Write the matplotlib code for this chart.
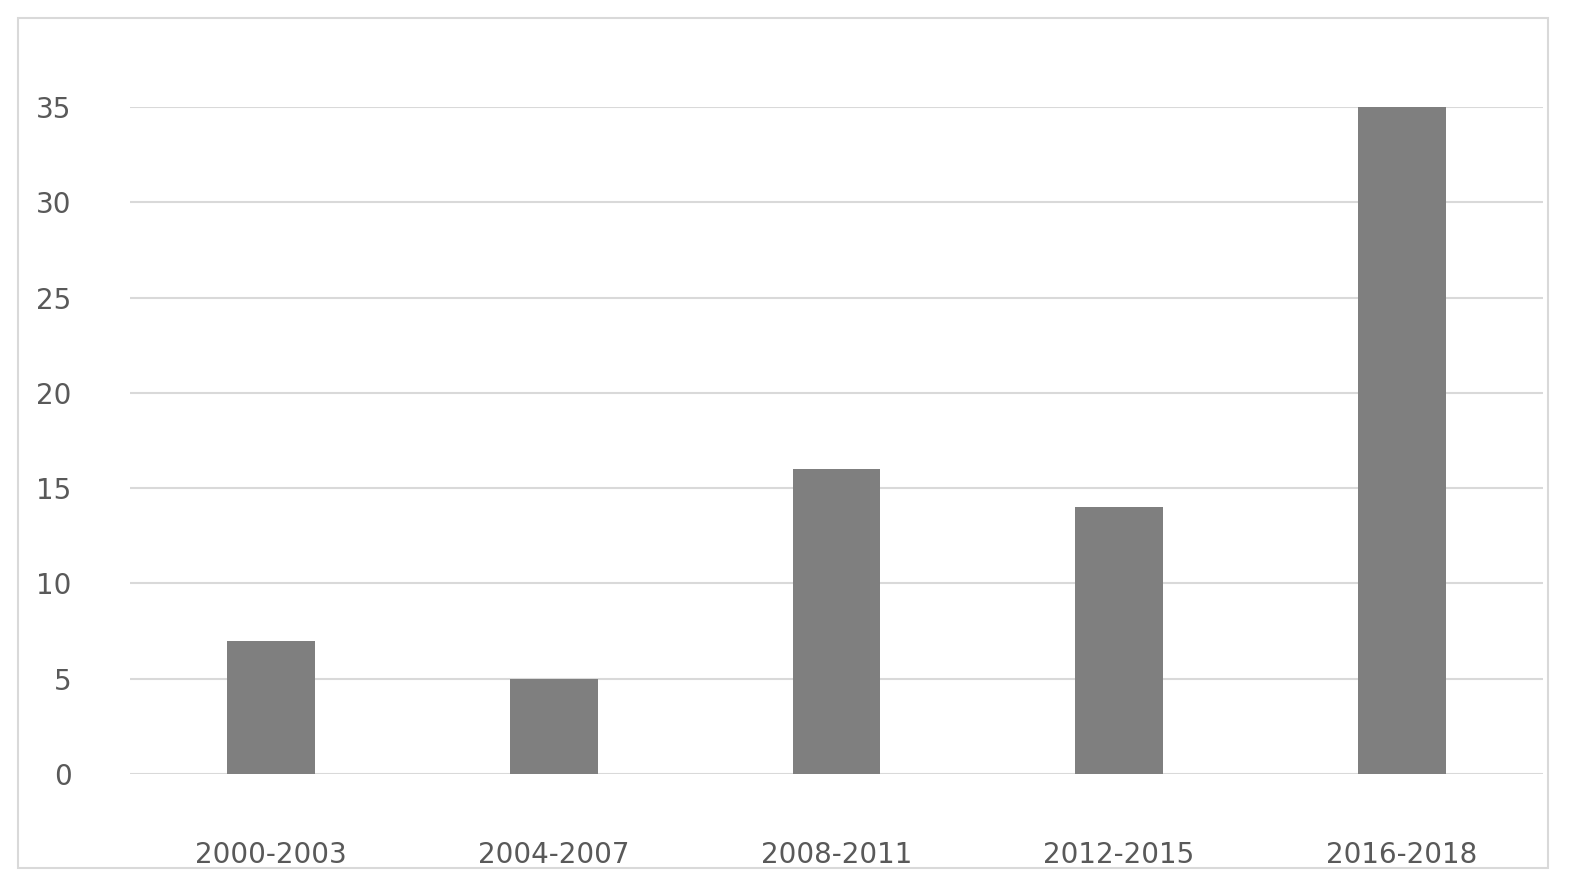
import matplotlib.pyplot as plt
from matplotlib.patches import Rectangle

periods = ["2000-2003", "2004-2007", "2008-2011", "2012-2015", "2016-2018"]
counts = [7, 5, 16, 14, 35]
yticks = [0, 5, 10, 15, 20, 25, 30, 35]

fig = plt.figure(figsize=(15.72, 8.86), dpi=100)
fig.patches.append(Rectangle((18 / 1572, 18 / 886), 1530 / 1572, 850 / 886,
                             transform=fig.transFigure, fill=False,
                             edgecolor="#d9d9d9", linewidth=1.5))

ax = fig.add_axes([130 / 1572, 112 / 886, 1413 / 1572, 667 / 886])
ax.bar(range(len(periods)), counts, width=0.31, color="#7f7f7f", zorder=3)

ax.set_xlim(-0.5, len(periods) - 0.5)
ax.set_ylim(0, 35)
ax.set_yticks(yticks)
ax.set_xticks(range(len(periods)))
ax.set_xticklabels(periods)
ax.yaxis.grid(True, color="#d9d9d9", linewidth=1.5, zorder=0)
for s in ax.spines.values():
    s.set_visible(False)
ax.tick_params(length=0, labelsize=20, labelcolor="#595959")
ax.tick_params(axis="y", pad=42)
ax.tick_params(axis="x", pad=48)

fig.savefig("out.png", dpi=100)
